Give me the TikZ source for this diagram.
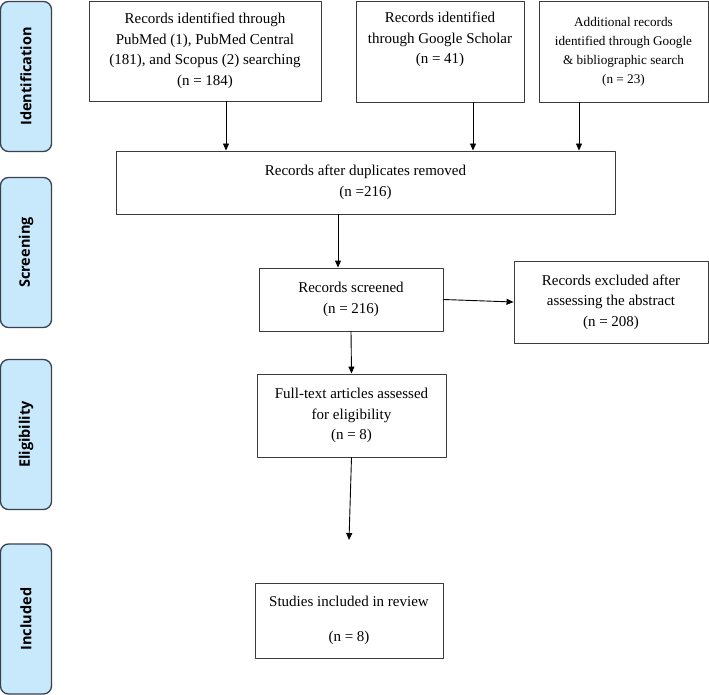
\documentclass[tikz,border=0pt]{standalone}
\usepackage{fontspec}
\setmainfont{Liberation Serif}
\newfontfamily\tabfont{Open Sans}
\usetikzlibrary{arrows.meta, calc, positioning}
\definecolor{tabblue}{RGB}{200,232,251}
\definecolor{tabline}{RGB}{55,65,80}
\definecolor{boxline}{RGB}{60,60,60}

\begin{document}
\begin{tikzpicture}[line cap=round,line join=round,>={Triangle[length=7pt,width=6pt]},x=1pt,y=-1pt,
  stage/.style={draw=tabline, fill=tabblue, line width=1.3pt, rounded corners=8pt, rotate=90,
    minimum width=150pt, minimum height=51pt, inner sep=0pt, font=\tabfont\bfseries\fontsize{14.5}{16}\selectfont},
  recbox/.style={draw=boxline, line width=0.9pt, align=center, inner sep=0pt, font=\fontsize{15}{20.5}\selectfont},
  flow/.style={->, line width=0.9pt}]
\useasboundingbox (0,0) rectangle (709,695);

% stages
\node [stage] (ident) at (26,76.5) {Identification};
\node [stage] (screen) at (26,252.5) {Screening};
\node [stage] (elig) at (26,434.5) {Eligibility};
\node [stage] (incl) at (26,619) {Included};

% records
\node [recbox, minimum width=232pt, minimum height=100pt] (pubmed) at (205,51)
  {Records identified through\\PubMed (1), PubMed Central\\(181), and Scopus (2) searching\\(n = 184)};
\node [recbox, minimum width=168pt, minimum height=101pt] (scholar) at (440,51.5)
  {Records identified\\through Google Scholar\\(n = 41)\\\strut};
\node [recbox, minimum width=169pt, minimum height=101pt, font=\fontsize{13.2}{19}\selectfont] (extra) at (623.5,51.5)
  {Additional records\\identified through Google\\\& bibliographic search\\(n = 23)};
\node [recbox, minimum width=499pt, minimum height=63pt] (dupl) at (365.5,182.5)
  {Records after duplicates removed\\(n =216)};
\node [recbox, minimum width=184pt, minimum height=63pt] (screened) at (351,299.5)
  {Records screened\\(n = 216)};
\node [recbox, minimum width=194pt, minimum height=82pt] (excl) at (611,302)
  {Records excluded after\\assessing the abstract\\(n = 208)};
\node [recbox, minimum width=189pt, minimum height=83pt] (fulltext) at (351.5,415.5)
  {Full-text articles assessed\\for eligibility\\(n = 8)};
\node [recbox, minimum width=188pt, minimum height=75pt] (studies) at (349,620.5)
  {Studies included in review\\[14pt](n = 8)};

% arrows
\path ([xshift=21pt]pubmed.south) coordinate (a1);
\path ([xshift=33pt]scholar.south) coordinate (a2);
\path ([xshift=-44.5pt]extra.south) coordinate (a3);
\path ([xshift=-13pt]screened.north) coordinate (a4);
\coordinate (a5) at (349,540);
\draw [flow] (a1) -- (a1 |- dupl.north);
\draw [flow] (a2) -- (a2 |- dupl.north);
\draw [flow] (a3) -- (a3 |- dupl.north);
\draw [flow] (a4 |- dupl.south) -- (a4);
\draw [flow] (screened.east) -- (excl.west);
\draw [flow] (screened.south) -- (fulltext.north);
\draw [flow] (fulltext.south) -- (a5);

\end{tikzpicture}
\end{document}
